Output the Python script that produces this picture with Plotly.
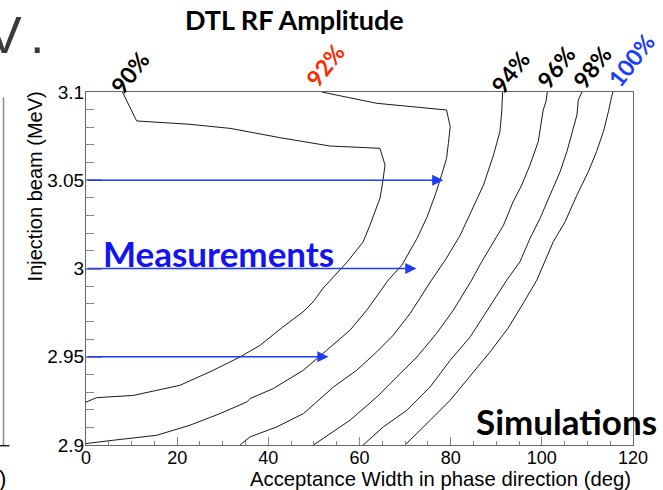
import plotly.graph_objects as go

# ---------------- data ----------------
x90 = [8.0, 8.9, 9.7, 11.1, 22.8, 31.6, 42.6, 53.5, 64.5, 65.6, 65.1, 64.5, 62.3, 60.8, 57.3, 55.0, 52.0, 49.8, 47.6, 43.2, 40.4, 38.2, 33.8, 27.9, 20.6, 10.4, 2.3, 0.0]
y90 = [3.100, 3.0955, 3.0908, 3.0836, 3.0817, 3.0794, 3.0741, 3.0694, 3.0681, 3.0586, 3.0491, 3.0399, 3.0246, 3.0151, 3.0037, 2.9973, 2.9888, 2.9810, 2.9754, 2.9669, 2.9612, 2.9565, 2.9499, 2.9423, 2.9338, 2.9281, 2.9268, 2.9243]

x92 = [51.7, 63.8, 79.1, 79.9, 79.5, 79.1, 78.0, 76.6, 74.7, 72.6, 69.3, 66.3, 61.6, 57.9, 52.8, 47.7, 41.1, 36.0, 35.3, 29.4, 22.8, 15.5, 6.0, 0.0]
y92 = [3.100, 3.0936, 3.0898, 3.0803, 3.0709, 3.0624, 3.0529, 3.0416, 3.0284, 3.0170, 3.0019, 2.9934, 2.9764, 2.9650, 2.9537, 2.9424, 2.9320, 2.9263, 2.9244, 2.9178, 2.9112, 2.9055, 2.9027, 2.9008]

x94 = [91.4, 91.2, 90.8, 89.4, 87.2, 83.9, 82.1, 78.8, 75.8, 71.1, 67.4, 63.8, 59.4, 54.3, 47.7, 41.8, 36.0, 33.8]
y94 = [3.100, 3.0888, 3.0775, 3.0643, 3.0473, 3.0284, 3.0189, 3.0047, 2.9934, 2.9745, 2.9622, 2.9528, 2.9424, 2.9329, 2.9178, 2.9102, 2.9046, 2.900]

x96 = [101.2, 100.9, 100.3, 100.0, 99.2, 97.4, 95.6, 93.7, 91.6, 89.0, 86.8, 84.6, 80.6, 76.9, 72.6, 68.2, 63.8, 57.9, 49.9]
y96 = [3.100, 3.0945, 3.0898, 3.0851, 3.0718, 3.0586, 3.0473, 3.0378, 3.0246, 3.0133, 3.0038, 2.9934, 2.9764, 2.9632, 2.9499, 2.9386, 2.9272, 2.9140, 2.900]

x98 = [108.8, 108.0, 107.7, 106.9, 105.5, 104.0, 101.8, 99.6, 97.4, 95.2, 92.3, 88.6, 84.3, 79.9, 75.5, 70.4, 65.2, 60.8]
y98 = [3.100, 3.0955, 3.0870, 3.0794, 3.0662, 3.0548, 3.0416, 3.0284, 3.0170, 3.0038, 2.9934, 2.9783, 2.9613, 2.9480, 2.9329, 2.9197, 2.9102, 2.900]

x100 = [115.6, 115.3, 114.6, 113.5, 112.0, 110.2, 107.7, 105.1, 102.5, 100.3, 98.9, 95.9, 92.6, 88.6, 84.3, 79.9, 75.5, 70.0]
y100 = [3.100, 3.0973, 3.0888, 3.0775, 3.0662, 3.0548, 3.0416, 3.0265, 3.0151, 3.0019, 2.9934, 2.9802, 2.9662, 2.9526, 2.9390, 2.9254, 2.9140, 2.900]

contour_x = [x90, x92, x94, x96, x98, x100]
contour_y = [y90, y92, y94, y96, y98, y100]

amp_labels = ["90%", "92%", "94%", "96%", "98%", "100%"]
amp_colors = ["black", "#ff2a00", "black", "black", "black", "#1a3cff"]

# measurement arrows: energy (MeV) and acceptance width reached (deg)
meas_energy = [3.05, 3.00, 2.95]
meas_width = [78.4, 72.5, 53.2]

x_ticks = [0, 20, 40, 60, 80, 100, 120]
y_ticks = [2.9, 2.95, 3.0, 3.05, 3.1]
y_ticktext = ["2.9", "2.95", "3", "3.05", "3.1"]

# ---------------- figure ----------------
fig = go.Figure()
for cx, cy in zip(contour_x, contour_y):
    fig.add_trace(go.Scatter(x=cx, y=cy, mode="lines",
                             line=dict(color="#1a1a1a", width=1),
                             hoverinfo="skip", showlegend=False))

BLUE = "#1f3cf5"
annotations = []
for e, w in zip(meas_energy, meas_width):
    annotations.append(dict(x=w, y=e, ax=0, ay=e, xref="x", yref="y", axref="x", ayref="y",
                            text="", showarrow=True, arrowhead=2, arrowsize=1.4,
                            arrowwidth=1.6, arrowcolor=BLUE, standoff=0))


def txt(text, x, y, size, color="black", family="Lato, 'Open Sans', sans-serif", angle=0,
        xanchor="center", yanchor="middle"):
    return dict(text=text, x=x, y=y, xref="paper", yref="paper", showarrow=False,
                xanchor=xanchor, yanchor=yanchor, textangle=angle,
                font=dict(family=family, size=size, color=color))


annotations.append(txt("<b>DTL RF Amplitude</b>", 0.382, 1.204, 27))

label_pos = [(0.081, 1.056), (0.437, 1.077), (0.775, 1.058), (0.859, 1.071), (0.925, 1.071), (0.997, 1.090)]
for lab, col, (px, py) in zip(amp_labels, amp_colors, label_pos):
    annotations.append(txt("<b>" + lab + "</b>", px, py, 23, col, angle=-52))

annotations.append(txt("<b>Measurements</b>", 0.243, 0.5435, 35, "#1414f0"))
annotations.append(txt("<b>Simulations</b>", 0.879, 0.069, 35))

axis_font = "'Liberation Sans', Arial, sans-serif"
annotations.append(txt("Injection beam (MeV)", -0.093, 0.733, 20, family=axis_font, angle=-90))
annotations.append(txt("Acceptance Width in phase direction (deg)", 1.0, -0.097, 20.3,
                       family=axis_font, xanchor="right"))

# fragments of neighbouring content at the left edge
annotations.append(txt("V", -0.1133, 1.162, 52, "#3a3a3a", family=axis_font, xanchor="right"))
annotations.append(txt(".", -0.0731, 1.162, 52, "#3a3a3a", family=axis_font, xanchor="right"))
annotations.append(txt(")", -0.153, -0.095, 22, family=axis_font))

shapes = [
    dict(type="line", xref="paper", yref="paper", x0=-0.1508, x1=-0.1508, y0=-0.002, y1=0.985,
         line=dict(color="#8a8a8a", width=1.5)),
    dict(type="line", xref="paper", yref="paper", x0=-0.158, x1=-0.140, y0=-0.002, y1=-0.002,
         line=dict(color="#222222", width=1.5)),
]

fig.update_layout(
    width=663, height=490,
    margin=dict(l=86, r=30, t=92, b=45, pad=0),
    paper_bgcolor="white", plot_bgcolor="white",
    annotations=annotations, shapes=shapes,
    showlegend=False,
    xaxis=dict(range=[0, 120], tickvals=x_ticks, ticks="inside", ticklen=8, tickcolor="#888888",
               tickwidth=1, showgrid=False, zeroline=False, showline=True, linecolor="#666666",
               linewidth=1, mirror=True, ticklabelstandoff=-4,
               minor=dict(dtick=5, ticks="inside", ticklen=4, tickcolor="#888888", showgrid=False),
               tickfont=dict(family=axis_font, size=18, color="black")),
    yaxis=dict(range=[2.9, 3.1], tickvals=y_ticks, ticktext=y_ticktext, ticks="inside", ticklen=16,
               tickcolor="#999999", tickwidth=2, showgrid=False, zeroline=False, showline=True,
               linecolor="#666666", linewidth=1, mirror=True, ticklabelstandoff=-3,
               minor=dict(dtick=0.01, ticks="inside", ticklen=8, tickcolor="#888888", tickwidth=1,
                          showgrid=False),
               tickfont=dict(family=axis_font, size=19, color="black")),
)

fig.write_html("out.html")
